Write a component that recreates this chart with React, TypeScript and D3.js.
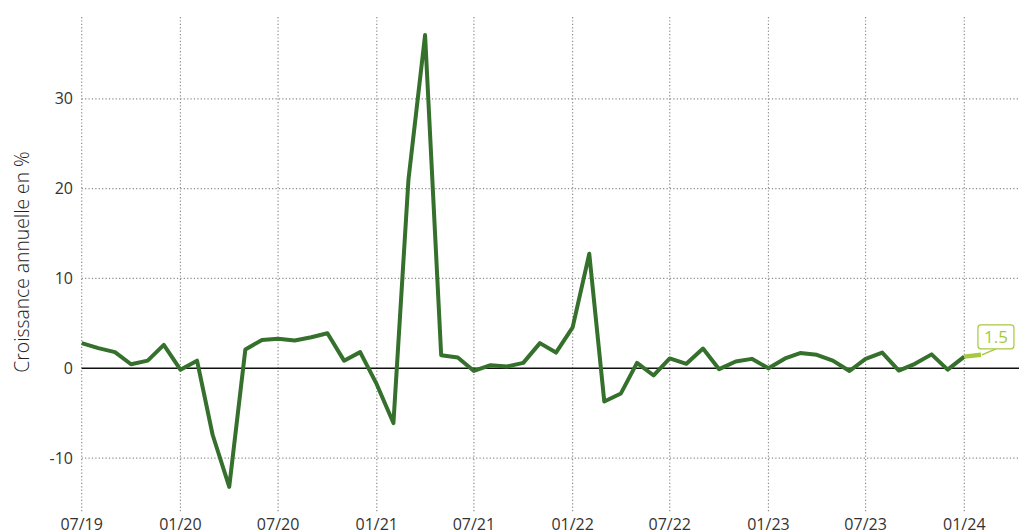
import { useEffect, useRef } from 'react'
import * as d3 from 'd3'

// monthly, 07/2019 .. 02/2024
const startMonth = '2019-07'
const growth = [
  2.8, 2.25, 1.8, 0.45, 0.85, 2.6, -0.15, 0.85, -7.4, -13.2, 2.1, 3.15,
  3.3, 3.1, 3.45, 3.9, 0.85, 1.8, -1.8, -6.1, 21.0, 37.1, 1.45, 1.2,
  -0.3, 0.35, 0.2, 0.6, 2.8, 1.75, 4.55, 12.75, -3.7, -2.8, 0.6, -0.8,
  1.1, 0.5, 2.2, -0.1, 0.75, 1.05, 0.0, 1.1, 1.7, 1.5, 0.85, -0.3,
  1.05, 1.75, -0.25, 0.5, 1.55, -0.15, 1.3, 1.5,
]
const xTicks = ['2019-07', '2020-01', '2020-07', '2021-01', '2021-07', '2022-01', '2022-07', '2023-01', '2023-07', '2024-01']
const yTicks = [-10, 0, 10, 20, 30]
const yTitle = 'Croissance annuelle en %'

const W = 1019
const H = 530
const parse = d3.timeParse('%Y-%m')

export default function App() {
  const svgRef = useRef<SVGSVGElement>(null)

  useEffect(() => {
    if (!svgRef.current) return
    const svg = d3.select(svgRef.current)
    svg.selectAll('*').remove()

    const start = parse(startMonth)!
    const data = growth.map((v, i) => ({ date: d3.timeMonth.offset(start, i), value: v }))

    const left = 81.7
    const top = 17
    const bottom = 512
    const x = d3.scaleTime()
      .domain([parse('2019-07')!, parse('2024-01')!])
      .range([left, 964.3])
    const y = d3.scaleLinear().domain([-16, 39]).range([512, 18])

    const font = "'Open Sans', sans-serif"

    // grid
    const grid = svg.append('g')
    grid.selectAll('line.h')
      .data(yTicks.filter(t => t !== 0))
      .join('line')
      .attr('x1', left).attr('x2', W)
      .attr('y1', d => y(d)).attr('y2', d => y(d))
      .attr('stroke', '#8a8a8a').attr('stroke-width', 1.2)
      .attr('stroke-dasharray', '1.2,2.2')

    grid.selectAll('line.v')
      .data(xTicks.map(t => parse(t)!))
      .join('line')
      .attr('x1', d => x(d)).attr('x2', d => x(d))
      .attr('y1', top).attr('y2', bottom)
      .attr('stroke', '#8a8a8a').attr('stroke-width', 1.2)
      .attr('stroke-dasharray', '1.2,2.2')

    // zero line
    svg.append('line')
      .attr('x1', left).attr('x2', W)
      .attr('y1', y(0)).attr('y2', y(0))
      .attr('stroke', '#111').attr('stroke-width', 1.5)

    // tick labels
    svg.append('g').selectAll('text')
      .data(yTicks)
      .join('text')
      .attr('x', 73).attr('y', d => y(d))
      .attr('dy', '0.35em')
      .attr('text-anchor', 'end')
      .attr('font-family', font).attr('font-size', 16).attr('fill', '#333')
      .text(d => d)

    svg.append('g').selectAll('text')
      .data(xTicks)
      .join('text')
      .attr('x', d => x(parse(d)!)).attr('y', 530)
      .attr('text-anchor', 'middle')
      .attr('font-family', font).attr('font-size', 16).attr('fill', '#333')
      .text(d => d3.timeFormat('%m/%y')(parse(d)!))

    svg.append('text')
      .attr('transform', 'translate(28.5,262) rotate(-90)')
      .attr('text-anchor', 'middle')
      .attr('font-family', font).attr('font-size', 19.3).attr('font-weight', 300).attr('fill', '#222')
      .text(yTitle)

    const line = d3.line<{ date: Date; value: number }>()
      .x(d => x(d.date))
      .y(d => y(d.value))

    svg.append('path')
      .datum(data.slice(0, data.length - 1))
      .attr('fill', 'none')
      .attr('stroke', '#35702c')
      .attr('stroke-width', 4)
      .attr('stroke-linejoin', 'round')
      .attr('d', line)

    svg.append('path')
      .datum(data.slice(data.length - 2))
      .attr('fill', 'none')
      .attr('stroke', '#a7c93e')
      .attr('stroke-width', 4.5)
      .attr('d', line)

    // last value label
    const last = data[data.length - 1]
    const lx = x(last.date)
    const ly = y(last.value)
    const bx = lx - 3
    const by = ly - 30
    svg.append('line')
      .attr('x1', lx + 1).attr('y1', ly)
      .attr('x2', bx + 18).attr('y2', by + 24)
      .attr('stroke', '#a7c93e').attr('stroke-width', 1.5)
    svg.append('rect')
      .attr('x', bx).attr('y', by)
      .attr('width', 36).attr('height', 24)
      .attr('rx', 3)
      .attr('fill', '#fff')
      .attr('stroke', '#a7c93e').attr('stroke-width', 1.2)
    svg.append('text')
      .attr('x', bx + 18).attr('y', by + 12)
      .attr('dy', '0.36em')
      .attr('text-anchor', 'middle')
      .attr('font-family', font).attr('font-size', 17).attr('fill', '#a7c93e')
      .text(last.value.toFixed(1))
  }, [])

  return (
    <svg ref={svgRef} width={W} height={H}
      style={{ position: 'absolute', left: 0, top: 0, display: 'block', background: '#fff' }} />
  )
}
